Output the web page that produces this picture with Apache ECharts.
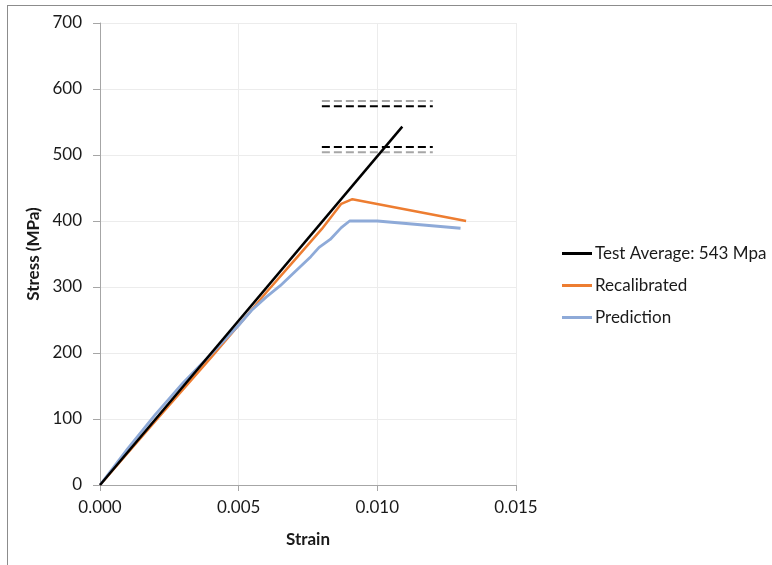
<!DOCTYPE html>
<html>
<head>
<meta charset="utf-8">
<script src="https://cdn.jsdelivr.net/npm/echarts@6/dist/echarts.min.js"></script>
<style>
    body { margin: 0; background: #fff; }
    #frame { position: absolute; left: 7px; top: 5px; width: 780px; height: 580px; border-left: 1px solid #8c8c8c; border-top: 1px solid #8c8c8c; }
    #stressChart { position: absolute; left: 0; top: 0; width: 772px; height: 565px; }
</style>
</head>
<body>
<div id="frame"></div>
<div id="stressChart"></div>
<script>
// strain / stress pairs
const testAverage = [[0, 0], [0.0109, 543]];
const recalibrated = [[0, 0], [0.002, 97], [0.004, 193], [0.005, 242], [0.006, 292], [0.007, 340],
    [0.008, 388], [0.0087, 426], [0.0091, 433], [0.0132, 400]];
const prediction = [[0, 0], [0.001, 55], [0.002, 107], [0.003, 155], [0.004, 198], [0.005, 242],
    [0.0055, 266], [0.006, 285], [0.0065, 302], [0.007, 322], [0.0076, 346], [0.0079, 360],
    [0.0083, 372], [0.0087, 390], [0.009, 400], [0.010, 400], [0.013, 389]];
// bound lines around the test average
const boundStrain = [0.008, 0.012];
const blackBounds = [574, 512];
const grayBounds = [582, 504];

const legendNames = ['Test Average: 543 Mpa', 'Recalibrated', 'Prediction'];
const font = 'Lato, "Open Sans", sans-serif';

function boundSeries(value, color) {
    return {
        type: 'line',
        data: boundStrain.map(s => [s, value]),
        symbol: 'none',
        silent: true,
        lineStyle: { color: color, width: 2, type: [8, 4] }
    };
}

var myChart = echarts.init(document.getElementById('stressChart'));

myChart.setOption({
    animation: false,
    textStyle: { fontFamily: font },
    grid: { left: 100, right: 256, top: 23, bottom: 80 },
    legend: {
        data: legendNames.map(n => ({ name: n, icon: 'rect' })),
        orient: 'vertical',
        left: 557,
        top: 240,
        itemWidth: 30,
        itemHeight: 3,
        itemGap: 15,
        textStyle: { fontSize: 17, color: '#1a1a1a', fontFamily: font, padding: [0, 0, 0, -2] }
    },
    xAxis: {
        type: 'value',
        min: 0,
        max: 0.015,
        interval: 0.005,
        name: 'Strain',
        nameLocation: 'middle',
        nameGap: 46,
        nameTextStyle: { fontSize: 17, fontWeight: 'bold', color: '#1a1a1a' },
        axisLine: { lineStyle: { color: '#a6a6a6' } },
        axisTick: { show: true, length: 6, lineStyle: { color: '#a6a6a6' } },
        axisLabel: { fontSize: 17, color: '#1a1a1a', margin: 14, formatter: v => v.toFixed(3) },
        splitLine: { show: true, lineStyle: { color: '#ececec' } }
    },
    yAxis: {
        type: 'value',
        min: 0,
        max: 700,
        interval: 100,
        name: 'Stress (MPa)',
        nameLocation: 'middle',
        nameGap: 56,
        nameTextStyle: { fontSize: 17, fontWeight: 'bold', color: '#1a1a1a' },
        axisLine: { show: true, lineStyle: { color: '#a6a6a6' } },
        axisTick: { show: true, length: 7, lineStyle: { color: '#a6a6a6' } },
        axisLabel: { fontSize: 17, color: '#1a1a1a', margin: 18 },
        splitLine: { show: true, lineStyle: { color: '#ececec' } }
    },
    series: [
        boundSeries(grayBounds[0], '#a6a6a6'),
        boundSeries(blackBounds[0], '#000'),
        boundSeries(blackBounds[1], '#000'),
        boundSeries(grayBounds[1], '#a6a6a6'),
        {
            name: legendNames[1],
            type: 'line',
            data: recalibrated,
            symbol: 'none',
            color: '#ed7d31',
            lineStyle: { width: 2.5 }
        },
        {
            name: legendNames[2],
            type: 'line',
            data: prediction,
            symbol: 'none',
            color: '#8eaad8',
            lineStyle: { width: 2.8 }
        },
        {
            name: legendNames[0],
            type: 'line',
            data: testAverage,
            symbol: 'none',
            color: '#000',
            lineStyle: { width: 2.5 },
            z: 3
        }
    ]
});
</script>
</body>
</html>
